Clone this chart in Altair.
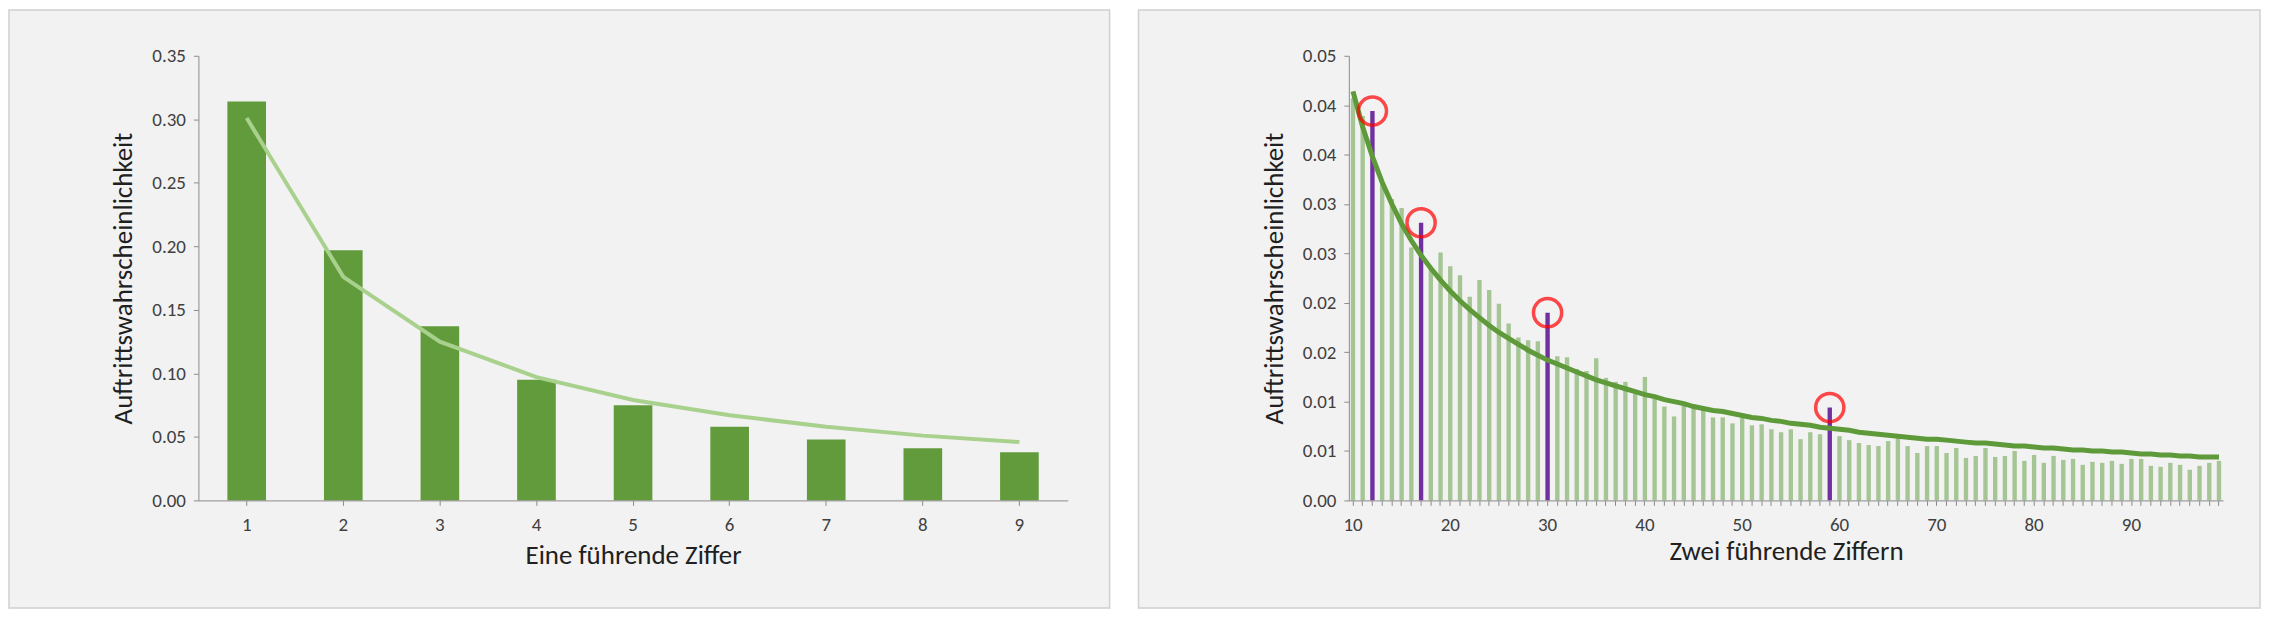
import altair as alt
import pandas as pd

# one leading digit
digits_1 = [1, 2, 3, 4, 5, 6, 7, 8, 9]
freq_1 = [0.314, 0.197, 0.137, 0.095, 0.075, 0.058, 0.048, 0.041, 0.038]
benford_1 = [0.301, 0.176, 0.125, 0.097, 0.079, 0.067, 0.058, 0.051, 0.046]

# two leading digits (10..99)
digits_2 = list(range(10, 100))
freq_2 = [
    0.0407, 0.0389, 0.0394, 0.0320, 0.0305, 0.0296, 0.0256, 0.0281, 0.0236, 0.0251,
    0.0237, 0.0228, 0.0206, 0.0223, 0.0213, 0.0199, 0.0179, 0.0165, 0.0162, 0.0161,
    0.0190, 0.0146, 0.0145, 0.0133, 0.0131, 0.0144, 0.0124, 0.0120, 0.0120, 0.0108,
    0.0125, 0.0103, 0.0095, 0.0085, 0.0098, 0.0096, 0.0093, 0.0084, 0.0084, 0.0078,
    0.0084, 0.0076, 0.0077, 0.0072, 0.0069, 0.0072, 0.0062, 0.0069, 0.0067, 0.0094,
    0.0065, 0.0061, 0.0058, 0.0056, 0.0055, 0.0060, 0.0065, 0.0055, 0.0048, 0.0055,
    0.0055, 0.0048, 0.0053, 0.0043, 0.0045, 0.0053, 0.0044, 0.0045, 0.0050, 0.0040,
    0.0046, 0.0038, 0.0045, 0.0041, 0.0042, 0.0036, 0.0039, 0.0038, 0.0040, 0.0037,
    0.0042, 0.0042, 0.0035, 0.0034, 0.0038, 0.0036, 0.0031, 0.0035, 0.0038, 0.0040,
]
benford_2 = [
    0.0414, 0.0378, 0.0348, 0.0322, 0.0300, 0.0280, 0.0263, 0.0248, 0.0235, 0.0223,
    0.0212, 0.0202, 0.0193, 0.0185, 0.0177, 0.0170, 0.0164, 0.0158, 0.0152, 0.0147,
    0.0142, 0.0138, 0.0134, 0.0130, 0.0126, 0.0122, 0.0119, 0.0116, 0.0113, 0.0110,
    0.0107, 0.0105, 0.0102, 0.0100, 0.0098, 0.0095, 0.0093, 0.0091, 0.0090, 0.0088,
    0.0086, 0.0084, 0.0083, 0.0081, 0.0080, 0.0078, 0.0077, 0.0076, 0.0074, 0.0073,
    0.0072, 0.0071, 0.0069, 0.0068, 0.0067, 0.0066, 0.0065, 0.0064, 0.0063, 0.0062,
    0.0062, 0.0061, 0.0060, 0.0059, 0.0058, 0.0058, 0.0057, 0.0056, 0.0055, 0.0055,
    0.0054, 0.0053, 0.0053, 0.0052, 0.0051, 0.0051, 0.0050, 0.0050, 0.0049, 0.0049,
    0.0048, 0.0047, 0.0047, 0.0046, 0.0046, 0.0045, 0.0045, 0.0044, 0.0044, 0.0044,
]
highlighted = [12, 17, 30, 59]
y_ticks_2 = [0, 0.005, 0.01, 0.015, 0.02, 0.025, 0.03, 0.035, 0.04, 0.045]

FONT = "Calibri, Carlito, Liberation Sans, sans-serif"
AXIS = dict(
    labelFontSize=19, titleFontSize=27, titleFontWeight="normal", labelColor="#404040",
    titleColor="#202020", domainColor="#8c8c8c", tickColor="#8c8c8c", grid=False,
    labelFont=FONT, titleFont=FONT, zindex=1,
)

df1 = pd.DataFrame({"digit": digits_1, "freq": freq_1, "benford": benford_1})
df2 = pd.DataFrame({"digit": digits_2, "freq": freq_2, "benford": benford_2})
df2["hl"] = df2["digit"].isin(highlighted)


def panel_box(w, h, left, right, top, bottom):
    return alt.Chart(pd.DataFrame({"a": [0]})).mark_rect(
        fill="#f2f2f2", stroke="#d0d0d0", strokeWidth=1.5
    ).encode(
        x=alt.value(-left), x2=alt.value(w + right),
        y=alt.value(-top), y2=alt.value(h + bottom),
    )


W1, W2, H = 872, 877, 446

x1 = alt.X("digit:O", title="Eine führende Ziffer",
           axis=alt.Axis(labelAngle=0, labelPadding=10, titlePadding=8, **AXIS),
           scale=alt.Scale(paddingInner=0.6, paddingOuter=0.3))
y1 = alt.Y("freq:Q", title="Auftrittswahrscheinlichkeit",
           axis=alt.Axis(format=".2f", values=[0, 0.05, 0.1, 0.15, 0.2, 0.25, 0.3, 0.35],
                         labelPadding=8, titlePadding=14, **AXIS),
           scale=alt.Scale(domain=[0, 0.35]))
bars1 = alt.Chart(df1).mark_bar(color="#629b3c").encode(x=x1, y=y1)
line1 = alt.Chart(df1).mark_line(color="#a9d18e", strokeWidth=4).encode(x="digit:O", y="benford:Q")
left = alt.layer(panel_box(W1, H, 190, 42, 46, 108), bars1, line1).properties(width=W1, height=H)

x2 = alt.X("digit:O", title="Zwei führende Ziffern",
           axis=alt.Axis(labelAngle=0, labelPadding=10, titlePadding=4,
                         labelExpr="datum.value % 10 == 0 ? datum.value : ''", **AXIS),
           scale=alt.Scale(paddingInner=0.55, paddingOuter=0.2))
y2 = alt.Y("freq:Q", title="Auftrittswahrscheinlichkeit",
           axis=alt.Axis(values=y_ticks_2, labelPadding=8, titlePadding=14,
                         labelExpr="format(round(datum.value * 100 + 1e-6) / 100, '.2f')", **AXIS),
           scale=alt.Scale(domain=[0, 0.045]))
bars2 = alt.Chart(df2).mark_bar().encode(
    x=x2, y=y2,
    color=alt.condition("datum.hl", alt.value("#7030a0"), alt.value("#a5c594")),
)
line2 = alt.Chart(df2).mark_line(color="#5e9a3a", strokeWidth=5).encode(x="digit:O", y="benford:Q")
circles = alt.Chart(df2).transform_filter("datum.hl").mark_point(
    shape="circle", filled=False, color="#ff0000", strokeWidth=3.5, size=800
).encode(x="digit:O", y="freq:Q")
right = alt.layer(panel_box(W2, H, 211, 37, 46, 108), bars2, line2, circles).properties(width=W2, height=H)

chart = alt.hconcat(left, right, spacing=27).properties(
    padding=0, background="white"
).configure_view(stroke=None)

chart.save("out.html", embed_options={"renderer": "svg", "actions": False})
